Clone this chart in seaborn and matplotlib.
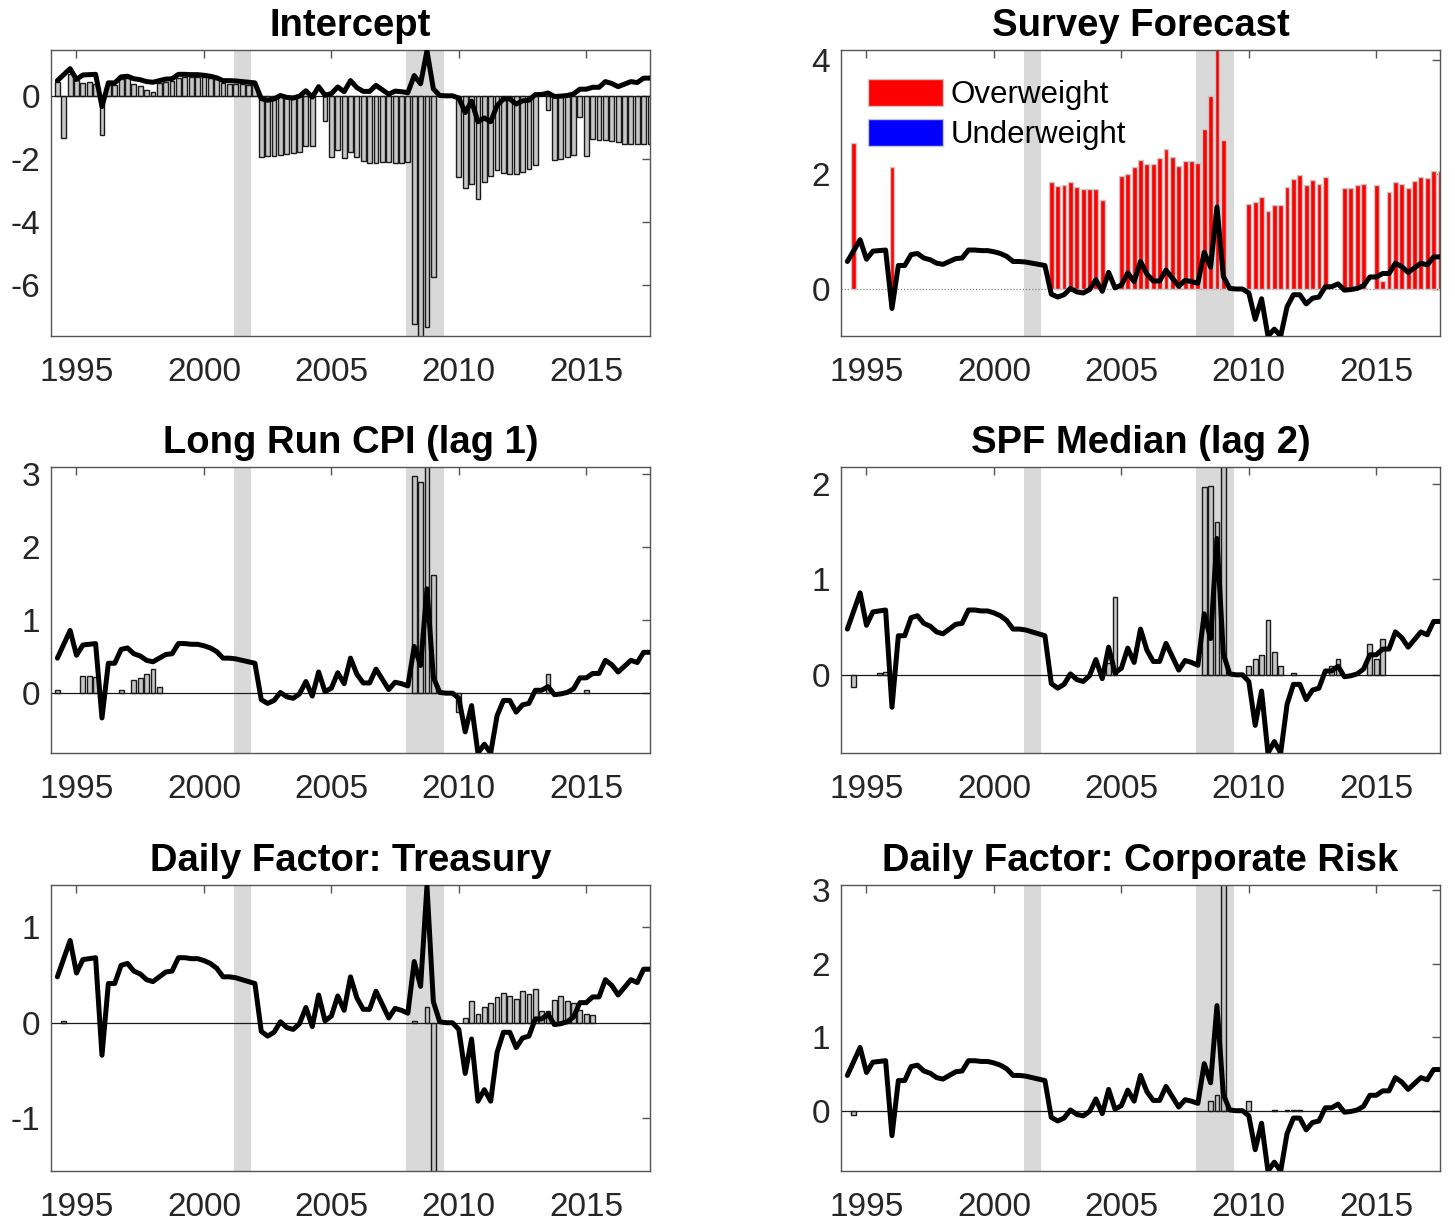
import numpy as np
import pandas as pd
import matplotlib
matplotlib.use("Agg")
import matplotlib.pyplot as plt
import seaborn as sns
from matplotlib.patches import Patch

# Quarterly dates, 1994Q1 .. 2017Q2, plotted at quarter end
periods = pd.period_range("1994Q1", "2017Q2", freq="Q")
quarters = np.array([p.year + p.quarter / 4.0 for p in periods])

# Total (black line), shared by every panel
total = [0.48, 0.67, 0.86,
         0.52, 0.66, 0.67, 0.68,
         -0.34, 0.41, 0.41, 0.60,
         0.62, 0.54, 0.51, 0.45,
         0.43, 0.48, 0.53, 0.54,
         0.68, 0.68, 0.67, 0.67,
         0.65, 0.62, 0.57, 0.48,
         0.48, 0.47, 0.45, 0.43,
         0.41, -0.09, -0.14, -0.10,
         0.01, -0.05, -0.07, -0.01,
         0.16, -0.04, 0.29, 0.02,
         0.07, 0.28, 0.13, 0.48,
         0.26, 0.14, 0.14, 0.33,
         0.19, 0.05, 0.15, 0.13,
         0.10, 0.64, 0.38, 1.43,
         0.22, 0.01, 0.00, 0.00,
         -0.07, -0.53, -0.17, -0.82,
         -0.70, -0.82, -0.31, -0.10,
         -0.10, -0.26, -0.16, -0.14,
         0.04, 0.04, 0.09, -0.02,
         -0.01, 0.01, 0.06, 0.21,
         0.21, 0.27, 0.27, 0.45,
         0.39, 0.29, 0.37, 0.45,
         0.42, 0.56, 0.56]

# Contributions by component
intercept = [0.45, -1.35, 0.70,
             0.50, 0.42, 0.45, 0.37,
             -1.25, 0.35, 0.34, 0.53,
             0.55, 0.37, 0.32, 0.18,
             0.13, 0.40, 0.45, 0.47,
             0.57, 0.58, 0.58, 0.58,
             0.58, 0.56, 0.53, 0.39,
             0.38, 0.37, 0.37, 0.35,
             0.33, -1.93, -1.91, -1.90,
             -1.87, -1.84, -1.81, -1.78,
             -1.60, -1.60, 0.00, -0.80,
             -1.93, -1.72, -1.97, -1.78,
             -1.93, -2.05, -2.14, -2.12,
             -2.10, -2.10, -2.12, -2.12,
             -2.10, -7.22, -7.90, -7.30,
             -5.73, 0.00, 0.00, 0.00,
             -2.57, -2.91, -2.78, -3.25,
             -2.74, -2.53, -2.36, -2.44,
             -2.46, -2.46, -2.40, -2.31,
             -2.20, 0.00, -0.45, -2.04,
             -2.00, -1.94, -1.86, -0.66,
             -1.91, -1.36, -1.40, -1.41,
             -1.42, -1.46, -1.51, -1.51,
             -1.51, -1.51, -1.51]

survey = [0.00, 2.55, 0.00,
          0.00, 0.00, 0.00, 0.00,
          2.12, 0.00, 0.00, 0.00,
          0.00, 0.00, 0.00, 0.00,
          0.00, 0.00, 0.00, 0.00,
          0.00, 0.00, 0.00, 0.00,
          0.00, 0.00, 0.00, 0.00,
          0.00, 0.00, 0.00, 0.00,
          0.00, 1.86, 1.80, 1.81,
          1.87, 1.78, 1.74, 1.75,
          1.75, 1.56, 0.00, 0.00,
          1.98, 2.01, 2.12, 2.25,
          2.18, 2.18, 2.29, 2.44,
          2.30, 2.15, 2.24, 2.23,
          2.20, 2.79, 3.36, 4.60,
          2.60, 0.00, 0.00, 0.00,
          1.48, 1.52, 1.60, 1.36,
          1.46, 1.46, 1.78, 1.92,
          1.99, 1.81, 1.90, 1.83,
          1.95, 0.00, 0.00, 1.76,
          1.76, 1.81, 1.83, 0.00,
          1.82, 0.14, 1.69, 1.86,
          1.83, 1.76, 1.88, 1.96,
          1.94, 2.06, 2.06]

long_run_cpi = {1994.25: 0.04, 1995.25: 0.24, 1995.5: 0.23, 1995.75: 0.22,
                1996.75: 0.05, 1997.25: 0.18, 1997.5: 0.21, 1997.75: 0.26,
                1998.0: 0.33, 1998.25: 0.08, 2008.25: 2.98, 2008.5: 2.89,
                2008.75: 3.60, 2009.0: 1.62, 2010.0: -0.26, 2013.5: 0.26,
                2015.0: 0.04}

spf_median = {1994.5: -0.13, 1995.5: 0.02, 1995.75: 0.03, 2004.5: 0.12,
              2004.75: 0.82, 2008.25: 1.97, 2008.5: 1.98, 2008.75: 1.60,
              2009.0: 2.60, 2010.0: 0.09, 2010.25: 0.17, 2010.5: 0.21,
              2010.75: 0.58, 2011.0: 0.24, 2011.25: 0.09, 2011.75: 0.02,
              2013.25: 0.09, 2013.5: 0.17, 2014.75: 0.32, 2015.0: 0.17,
              2015.25: 0.38}

treasury = {1994.5: 0.02, 2008.25: 0.02, 2008.75: 0.16, 2009.0: -1.80,
            2010.25: 0.045, 2010.5: 0.23, 2010.75: 0.09, 2011.0: 0.165,
            2011.25: 0.21, 2011.5: 0.27, 2011.75: 0.31, 2012.0: 0.28,
            2012.25: 0.25, 2012.5: 0.33, 2012.75: 0.30, 2013.0: 0.35,
            2013.25: 0.12, 2013.5: 0.12, 2013.75: 0.24, 2014.0: 0.28,
            2014.25: 0.23, 2014.5: 0.21, 2014.75: 0.13, 2015.0: 0.09,
            2015.25: 0.08}

corporate_risk = {1994.5: -0.06, 2008.5: 0.13, 2008.75: 0.21, 2009.0: 3.50,
                  2010.0: 0.135, 2011.0: 0.01, 2011.5: 0.01, 2011.75: 0.01,
                  2012.0: 0.005}

recessions = [(2001.17, 2001.83), (2007.92, 2009.42)]
year_ticks = [1995, 2000, 2005, 2010, 2015]

titles = ["Intercept", "Survey Forecast", "Long Run CPI (lag 1)",
          "SPF Median (lag 2)", "Daily Factor: Treasury",
          "Daily Factor: Corporate Risk"]
ylims = [(-7.6, 1.45), (-0.82, 4.17), (-0.82, 3.1),
         (-0.82, 2.18), (-1.55, 1.44), (-0.82, 3.07)]
yticks = [[-6, -4, -2, 0], [0, 2, 4], [0, 1, 2, 3],
          [0, 1, 2], [-1, 0, 1], [0, 1, 2, 3]]


def expand(sparse):
    lookup = {round(k, 2): v for k, v in sparse.items()}
    return [lookup.get(round(q, 2), 0.0) for q in quarters]


bars = [intercept, survey, expand(long_run_cpi), expand(spf_median),
        expand(treasury), expand(corporate_risk)]

sns.set_theme(style="white")
plt.rcParams["font.family"] = ["Liberation Sans", "DejaVu Sans"]
plt.rcParams["axes.unicode_minus"] = False

fig = plt.figure(figsize=(14.55, 12.26), dpi=100)
W, H = 1455.0, 1226.0
col_left = [51, 841]
row_top = [50, 467, 885]
aw, ah = 599, 286

for i in range(6):
    r, c = divmod(i, 2)
    ax = fig.add_axes([col_left[c] / W, 1 - (row_top[r] + ah) / H, aw / W, ah / H])

    for a, b in recessions:
        ax.axvspan(a, b, color="#d9d9d9", lw=0, zorder=0)

    vals = np.array(bars[i])
    nz = vals != 0
    if i == 1:
        colors = np.where(vals[nz] >= 0, "#ff0000", "#0000ff")
        ax.bar(quarters[nz], vals[nz], width=0.19, color=colors,
               edgecolor="#c8c8c8", linewidth=1.0, zorder=2)
        ax.axhline(0, color="#888888", lw=0.9, ls=(0, (1, 1.5)), zorder=1.5)
    else:
        ax.bar(quarters[nz], vals[nz], width=0.19, color="#c6c6c6",
               edgecolor="#1a1a1a", linewidth=1.0, zorder=2)
        ax.axhline(0, color="#1a1a1a", lw=0.9, zorder=2.5)

    sns.lineplot(x=quarters, y=total, ax=ax, color="black", lw=3.6,
                 zorder=3, legend=False)

    ax.set_xlim(1994.0, 2017.5)
    ax.set_ylim(*ylims[i])
    ax.set_xticks(year_ticks)
    ax.set_yticks(yticks[i])
    ax.set_xticklabels([str(y) for y in year_ticks])
    ax.set_yticklabels([str(t) for t in yticks[i]])
    ax.set_xlabel("")
    ax.set_ylabel("")
    ax.tick_params(direction="in", length=6, width=1.0, top=True, right=True,
                   labelsize=24, color="#555555", labelcolor="#262626")
    ax.tick_params(axis="x", pad=15)
    ax.tick_params(axis="y", pad=8)
    for s in ax.spines.values():
        s.set_color("#555555")
        s.set_linewidth(1.0)
        s.set_visible(True)
    ax.set_title(titles[i], fontsize=27.5, fontweight="bold", pad=10,
                 color="black")

    if i == 1:
        handles = [Patch(facecolor="#ff0000", edgecolor="#c8c8c8", label="Overweight"),
                   Patch(facecolor="#0000ff", edgecolor="#c8c8c8", label="Underweight")]
        ax.legend(handles=handles, loc="upper left", bbox_to_anchor=(0.045, 0.9),
                  frameon=False, fontsize=22.5, handlelength=2.4,
                  handleheight=0.95, handletextpad=0.25, labelspacing=0.28,
                  borderaxespad=0, borderpad=0, labelcolor="black")

fig.savefig("out.png", dpi=100)
